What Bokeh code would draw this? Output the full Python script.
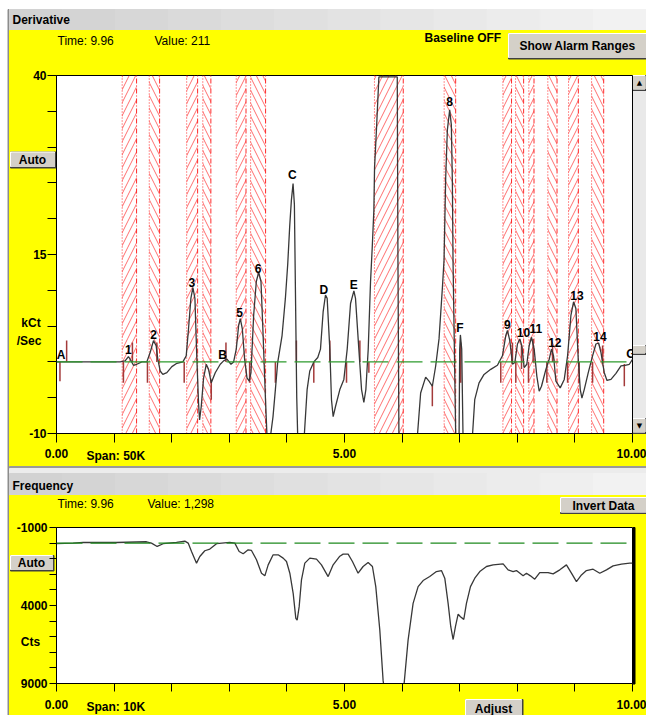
from bokeh.plotting import figure
from bokeh.layouts import column
from bokeh.models import Range1d, FixedTicker, Span
from bokeh.core.properties import value
from bokeh.embed import file_html
from bokeh.resources import INLINE

# ---------------- data ----------------
deriv_t = [0.000, 1.104, 1.191, 1.249, 1.295, 1.336, 1.394, 1.481, 1.568, 1.626, 1.684, 1.730, 1.759,
           1.800, 1.846, 1.916, 2.003, 2.090, 2.194, 2.252, 2.292, 2.333, 2.368, 2.403, 2.437, 2.466,
           2.484, 2.513, 2.554, 2.600, 2.640, 2.687, 2.756, 2.843, 2.901, 2.959, 3.029, 3.075, 3.121,
           3.162, 3.191, 3.226, 3.266, 3.307, 3.347, 3.376, 3.423, 3.469, 3.510, 3.550, 3.585, 3.626,
           3.655, 3.690, 3.713, 3.759, 3.800, 3.840, 3.916, 3.974, 4.014, 4.049, 4.078, 4.107, 4.130,
           4.148, 4.171, 4.188, 4.240, 4.300, 4.351, 4.397, 4.467, 4.536, 4.583, 4.629, 4.670, 4.699,
           4.745, 4.774, 4.803, 4.844, 4.919, 4.989, 5.047, 5.105, 5.163, 5.191, 5.249, 5.296, 5.336,
           5.371, 5.412, 5.452, 5.481, 5.510, 5.522, 5.557, 5.597, 5.916, 5.928, 5.945, 6.100, 6.264,
           6.322, 6.409, 6.467, 6.525, 6.583, 6.641, 6.699, 6.728, 6.757, 6.786, 6.826, 6.855, 6.873,
           6.884, 6.931, 6.960, 6.989, 7.000, 7.012, 7.035, 7.058, 7.133, 7.220, 7.261, 7.336, 7.423,
           7.539, 7.655, 7.742, 7.800, 7.829, 7.870, 7.916, 7.957, 8.003, 8.044, 8.078, 8.119, 8.165,
           8.206, 8.247, 8.293, 8.339, 8.380, 8.420, 8.496, 8.554, 8.594, 8.629, 8.670, 8.745, 8.815,
           8.873, 8.931, 8.977, 9.017, 9.058, 9.093, 9.122, 9.162, 9.232, 9.307, 9.365, 9.412, 9.452,
           9.510, 9.557, 9.626, 9.713, 9.800, 9.870, 9.945, 10.003]
deriv_v = [0.00, 0.00, 0.14, 0.75, 0.14, -0.47, -0.33, 0.00, 0.00, 1.32, 2.97, 2.26, 0.38,
           -1.27, -1.75, -1.51, -0.66, -0.19, 0.00, 0.85, 4.62, 8.87, 10.38, 8.87, 0.38, -5.75,
           -8.11, -6.23, -2.22, -0.33, -1.04, -2.92, -1.51, -0.33, 0.14, 0.38, -0.33, 0.00, 1.79,
           5.09, 6.04, 4.62, 0.38, -2.22, -2.69, -1.51, 6.51, 11.23, 12.55, 11.23, 4.15, -4.81,
           -10.5, -13.0, -10.5, -7.64, -3.87, -0.09, 3.68, 8.90, 13.6, 19.0, 22.6, 24.9, 22.0,
           10.0, -5.0, -10.5, -13.0, -10.5, -3.87, -1.27, 0.00, 0.61, 1.79, 6.98, 9.34, 8.87,
           1.79, -5.28, -7.64, -6.23, -3.87, -2.45, 1.79, 8.16, 9.91, 8.87, 1.79, -3.87, -5.66,
           -3.87, 1.79, 11.23, 15.9, 21.2, 27.2, 32.8, 39.8, 39.8, 14.2, -10.5, -13.0, -10.5,
           -4.34, -2.12, -2.69, -3.40, -0.57, 3.21, 10.28, 14.2, 25.8, 32.4, 35.2, 33.1, 25.0,
           14.2, -10.5, -13.0, -10.5, 1.79, 3.77, 1.79, -10.5, -13.0, -10.5, -5.28, -2.92, -1.75,
           -1.04, -0.47, 0.85, 3.68, 4.39, 2.97, -0.33, -0.09, 2.50, 3.21, 2.26, -0.80, -0.33,
           2.26, 3.44, 1.79, -1.98, -4.10, -3.40, -1.04, 0.38, 1.79, 0.85, -2.69, -3.63, -2.45,
           0.85, 6.51, 8.40, 7.45, 0.38, -3.87, -5.05, -3.87, -1.51, 0.85, 2.50, 2.64, 1.32,
           -1.51, -2.59, -2.45, -1.60, -0.57, -0.47, -0.33, 0.38]

freq_t = [0.000, 0.289, 0.463, 1.041, 1.562, 1.649, 1.748, 1.852, 2.083, 2.228, 2.286, 2.344, 2.431,
          2.488, 2.575, 2.662, 2.778, 3.009, 3.096, 3.171, 3.241, 3.327, 3.385, 3.472, 3.559, 3.617,
          3.675, 3.761, 3.848, 3.935, 3.993, 4.051, 4.109, 4.155, 4.178, 4.213, 4.253, 4.311, 4.398,
          4.514, 4.600, 4.716, 4.803, 4.919, 4.976, 5.063, 5.138, 5.236, 5.323, 5.410, 5.485, 5.543,
          5.613, 5.670, 5.700, 5.850, 6.020, 6.035, 6.104, 6.191, 6.278, 6.365, 6.480, 6.596, 6.683,
          6.741, 6.799, 6.845, 6.886, 6.926, 6.973, 7.013, 7.071, 7.117, 7.187, 7.262, 7.349, 7.465,
          7.580, 7.754, 7.840, 7.927, 7.985, 8.101, 8.159, 8.228, 8.303, 8.390, 8.535, 8.622, 8.738,
          8.853, 8.940, 9.027, 9.114, 9.200, 9.316, 9.432, 9.548, 9.663, 9.808, 9.953, 10.000]
freq_v = [40, 0, -40, -40, -85, 0, 215, 40, -40, -130, 0, 535, 1285,
          860, 490, 385, 40, -40, 0, 535, 685, 430, 470, 1070, 1930, 2100,
          1395, 750, 750, 965, 1180, 1930, 3220, 4825, 4935, 4075, 2360, 1285, 965,
          1030, 1395, 2145, 1395, 840, 710, 710, 1180, 1930, 1500, 1245, 1500, 2790,
          5580, 8800, 9600, 10500, 9600, 9010, 6220, 3860, 2790, 2400, 2145, 1825, 1760,
          2250, 3860, 5360, 6180, 5360, 4550, 4720, 4890, 3860, 2790, 2250, 1825, 1500,
          1395, 1330, 1715, 1825, 1760, 2100, 1930, 2100, 2315, 1890, 1890, 1975, 1715,
          1395, 1930, 2465, 2040, 1760, 1675, 1930, 1715, 1460, 1350, 1290, 1290]

band_start = [1.14, 1.61, 2.26, 2.54, 3.12, 3.37, 5.52, 6.73, 7.75, 7.97, 8.20, 8.53, 8.89, 9.29]
band_end = [1.39, 1.79, 2.45, 2.68, 3.29, 3.63, 6.02, 6.93, 7.90, 8.11, 8.29, 8.69, 9.06, 9.50]

peak_names = ["A", "1", "2", "3", "B", "5", "6", "C", "D", "E", "8", "F",
              "9", "10", "11", "12", "13", "14", "G"]
peak_t = [0.078, 1.249, 1.684, 2.351, 2.884, 3.180, 3.499, 4.096, 4.640, 5.162, 6.826, 7.005,
          7.829, 8.108, 8.322, 8.652, 9.035, 9.435, 9.974]
peak_v = [0.94, 1.73, 3.83, 11.09, 0.94, 6.84, 13.05, 26.08, 10.11, 10.71, 36.3, 4.80,
          5.27, 4.05, 4.66, 2.65, 9.22, 3.59, 1.08]

marker_t = [0.060, 0.176, 1.162, 1.318, 1.579, 1.742, 2.217, 2.687, 2.942, 3.353, 3.800, 4.165,
            4.467, 4.745, 5.035, 5.267, 5.423, 6.525, 7.018, 7.713, 7.916, 7.974, 8.073, 8.194,
            8.275, 8.513, 8.612, 8.873, 9.075, 9.307, 9.481, 9.858]
marker_top = [0.0, 3.0, 0.0, 2.7, 0.0, 2.7, 0.0, -2.5, 2.7, 0.0, 0.0, 3.0,
              0.0, 3.0, 0.0, 3.0, 0.0, -3.2, 2.7, 0.0, 2.7, 0.0, 2.3, 0.0,
              3.2, 0.0, 2.3, 0.0, 0.0, 0.0, 2.3, -0.3]
marker_bottom = [-2.7, 0.0, -2.9, 0.0, -2.9, 0.0, -2.9, -5.3, 0.0, -2.9, -2.9, 0.0,
                 -2.9, 0.0, -2.9, 0.0, -1.5, -6.2, -2.9, -2.9, 0.0, -2.9, -1.0, -2.9,
                 -0.1, -2.9, 0.0, -2.9, -2.9, -2.9, 0.0, -3.4]

deriv_baseline = 0
freq_baseline = 0
x_ticks = [0, 1, 2, 3, 4, 5, 6, 7, 8, 9, 10]
x_tick_labels = {0: "0.00", 5: "5.00", 10: "10.00"}
deriv_ticks = [-10, -5, 0, 5, 10, 15, 20, 25, 30, 35, 40]
deriv_tick_labels = {-10: "-10", 15: "15", 40: "40"}
freq_ticks = [-1000, 0, 1000, 2000, 3000, 4000, 5000, 6000, 7000, 8000, 9000]
freq_tick_labels = {-1000: "-1000", 4000: "4000", 9000: "9000"}

# ---------------- styling ----------------
FONT = "Liberation Sans"
YELLOW = "#ffff00"
PAGE_W, PAGE_H = 646, 715
TOP_H = 466
BOT_H = PAGE_H - TOP_H

# ---- background / window decorations (pixel space of the page) ----
bg = figure(width=PAGE_W, height=PAGE_H, x_range=Range1d(0, PAGE_W), y_range=Range1d(PAGE_H, 0),
            x_axis_location=None, y_axis_location=None, toolbar_location=None,
            output_backend="svg", min_border=0)
bg.frame_align = False
bg.outline_line_color = None
bg.grid.visible = False
bg.background_fill_color = "white"
bg.border_fill_color = "white"


def rect(l, t, r, b, fill, line=None):
    bg.quad(left=l, right=r, top=t, bottom=b, fill_color=fill,
            line_color=line if line else fill, line_width=1)


def txt(x, y, s, size="12px", bold=True, align="left", font=FONT, color="black"):
    bg.text(x=[x], y=[y], text=[s], text_font=value(font), text_font_size=size,
            text_font_style="bold" if bold else "normal", text_align=align,
            text_baseline="middle", text_color=color)


def button(l, t, r, b, label, cx, cy):
    rect(l, t, r, b, "#404040")
    rect(l, t, r - 1.5, b - 1.5, "#ffffff")
    rect(l + 1, t + 1, r - 1.5, b - 1.5, "#d4d0c8")
    if label:
        txt(cx, cy, label, align="center")


def title_bar(t, b, label, ty):
    n = 12
    x0, x1 = 9, PAGE_W
    for i in range(n):
        g = int(0xd2 + (0xf2 - 0xd2) * i / (n - 1))
        c = "#%02x%02x%02x" % (g, g, g)
        rect(x0 + (x1 - x0) * i / n, t, x0 + (x1 - x0) * (i + 1) / n, b, c)
    txt(12, ty, label, size="12px")


# panel frames
rect(7.5, 9, 8.5, PAGE_H, "#8c8c8c")
title_bar(9, 30, "Derivative", 19.5)
rect(9, 30, PAGE_W, 466, YELLOW)
rect(9, 466, PAGE_W, 468, "#9a9a9a")
rect(9, 468, PAGE_W, 473, "#ececec")
title_bar(473, 495, "Frequency", 485)
rect(9, 495, PAGE_W, PAGE_H, YELLOW)

# top panel texts and buttons
txt(57, 40.5, "Time:  9.96", size="12px", bold=False)
txt(154, 40.5, "Value:  211", size="12px", bold=False)
txt(424, 37.5, "Baseline OFF", size="12px")
button(508, 33, 648, 58.5, "Show Alarm Ranges", 577, 45.5)
button(10, 151.5, 55.5, 167.5, "Auto", 32, 159.5)
txt(30.5, 322.5, "kCt", align="center")
txt(28.5, 340, "/Sec", align="center")
txt(86, 455, "Span: 50K")
# scrollbar
rect(632, 75, PAGE_W, 433, "#e9e9e9", "#a0a0a0")
button(632, 75, PAGE_W, 90, "", 639, 82)
button(632, 418, PAGE_W, 433, "", 639, 425)
button(632, 345, PAGE_W, 354, "", 639, 349)
txt(639, 82.5, "\u25b2", size="7px", bold=False, align="center", font="DejaVu Sans")
txt(639, 425.5, "\u25bc", size="7px", bold=False, align="center", font="DejaVu Sans")

# bottom panel texts and buttons
txt(57, 503, "Time:  9.96", size="12px", bold=False)
txt(147, 503, "Value:  1,298", size="12px", bold=False)
button(560, 497, 648, 513, "Invert Data", 603, 505)
button(10, 555, 53.5, 570.5, "Auto", 31, 562.5)
txt(30, 641, "Cts", align="center")
txt(86, 706, "Span: 10K")
button(465, 699, 522.5, 717, "Adjust", 493, 708)
rect(632.5, 527, 634.5, 683.5, "#000000")


# ---- plotting figures (transparent borders, overlaid on the window) ----
def make_fig(h, top, bottom, yr, yticks, ylabels, ytick_len, xtick_len, xstand, ystand):
    p = figure(width=PAGE_W, height=h, x_range=Range1d(0, 10), y_range=yr,
               output_backend="svg", toolbar_location=None,
               min_border_left=56, min_border_right=14,
               min_border_top=top, min_border_bottom=bottom)
    p.frame_align = False
    p.border_fill_color = None
    p.background_fill_color = "white"
    p.outline_line_color = "black"
    p.outline_line_width = 1
    p.grid.visible = False
    for ax, ticks, labels, tl in ((p.xaxis, x_ticks, x_tick_labels, xtick_len),
                                  (p.yaxis, yticks, ylabels, ytick_len)):
        ax.ticker = FixedTicker(ticks=ticks)
        ax.major_label_overrides = {k: labels.get(k, "") for k in ticks}
        ax.axis_line_color = "black"
        ax.major_tick_line_color = "black"
        ax.major_tick_out = tl
        ax.major_tick_in = 0
        ax.minor_tick_out = 0
        ax.minor_tick_in = 0
        ax.major_label_text_font = FONT
        ax.major_label_text_font_style = "bold"
        ax.major_label_text_font_size = "12px"
        ax.major_label_text_color = "black"
    p.xaxis.major_label_standoff = xstand
    p.yaxis.major_label_standoff = ystand
    return p


top = make_fig(TOP_H, 75, 33, Range1d(-10, 40), deriv_ticks, deriv_tick_labels, 9, 9, 6, 1)
top.margin = (-PAGE_H, 0, 0, 0)

ev = list(range(0, len(band_start), 2))
od = list(range(1, len(band_start), 2))
for idx, pat in ((ev, "/"), (od, "\\")):
    top.quad(left=[band_start[i] for i in idx], right=[band_end[i] for i in idx],
             bottom=-10, top=40, fill_color=None, line_color=None,
             hatch_pattern=pat, hatch_color="#ff3030", hatch_alpha=0.7,
             hatch_scale=13, hatch_weight=1)
top.segment(x0=band_start, y0=-10, x1=band_start, y1=40, line_color="#ff2a2a",
            line_dash="1 2", line_width=1)
top.segment(x0=band_end, y0=-10, x1=band_end, y1=40, line_color="#ff2a2a",
            line_dash="5 2 1 2", line_width=1)
top.add_layout(Span(location=deriv_baseline, dimension="width", line_color="#2e9b2e",
                    line_dash="26 8", line_width=1.3))
top.segment(x0=marker_t, y0=marker_bottom, x1=marker_t, y1=marker_top,
            line_color="#a33a3a", line_width=1.5)
top.line(deriv_t, deriv_v, line_color="#383838", line_width=1.3)
top.text(x=peak_t, y=peak_v, text=peak_names, text_font=value(FONT),
         text_font_style="bold", text_font_size="12px", text_align="center",
         text_baseline="middle", text_color="black")

bot = make_fig(BOT_H, 527 - TOP_H, PAGE_H - 683, Range1d(9000, -1000), freq_ticks,
               freq_tick_labels, 7, 8, 8, 2)
bot.add_layout(Span(location=freq_baseline, dimension="width", line_color="#1f8a1f",
                    line_dash="26 8", line_width=1.3))
bot.line(freq_t, freq_v, line_color="#383838", line_width=1.3)

layout = column(bg, top, bot, spacing=0)
open("out.html", "w").write(file_html(layout, INLINE))
